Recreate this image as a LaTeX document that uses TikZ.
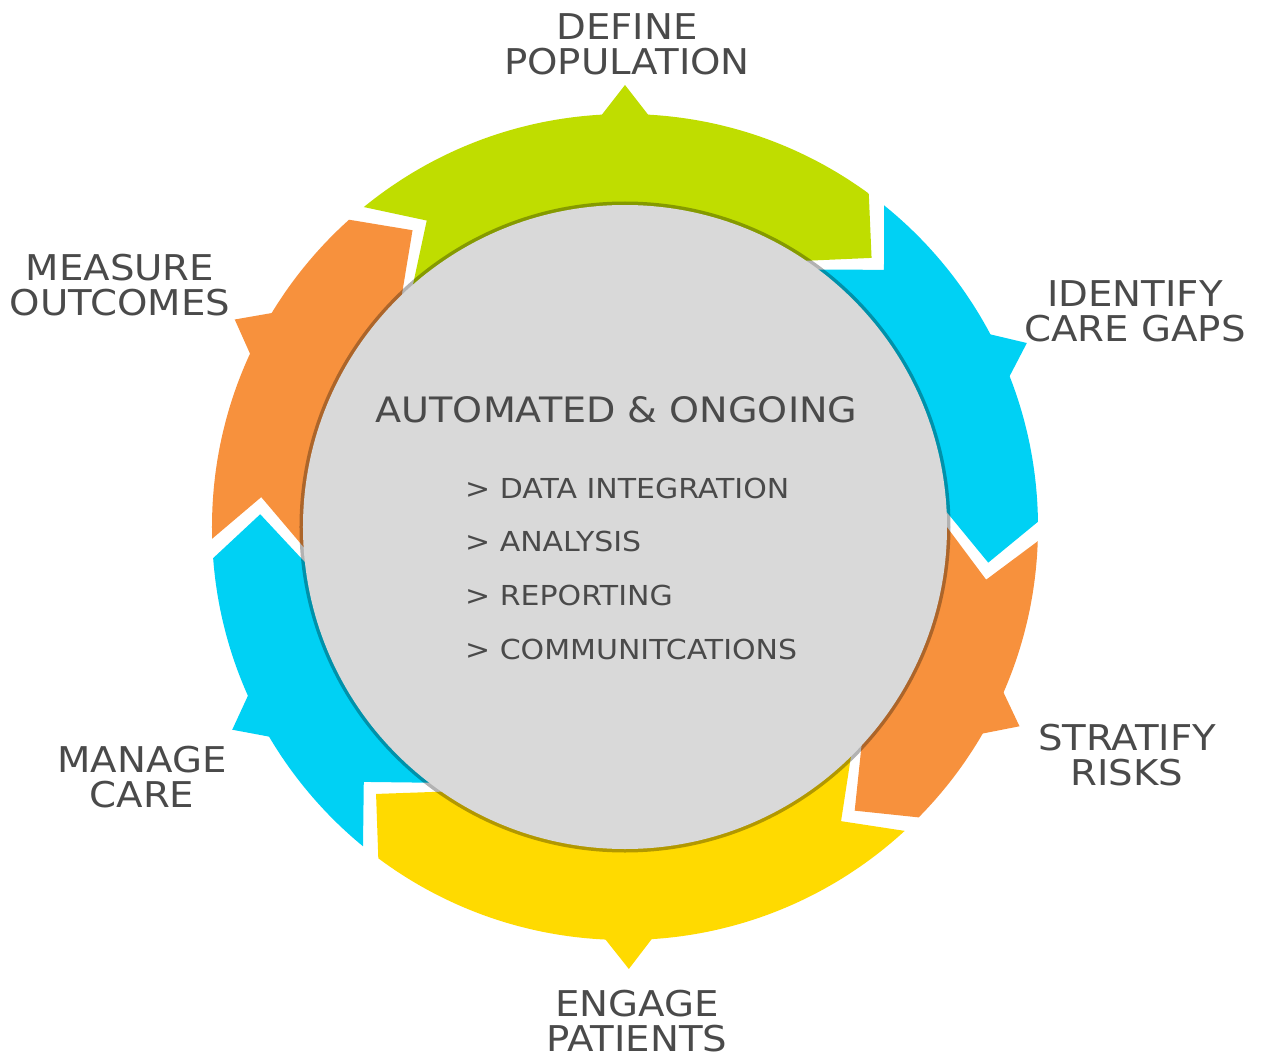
\documentclass[tikz,border=0pt]{standalone}
\usepackage{fontspec}
\setmainfont[FakeStretch=1.09]{DejaVu Sans}
\usepackage{tikz}
\usetikzlibrary{calc}
\definecolor{cyclegreen}{RGB}{191,221,0}
\definecolor{cycleblue}{RGB}{0,209,244}
\definecolor{cycleorange}{RGB}{247,145,61}
\definecolor{cycleyellow}{RGB}{255,218,0}
\definecolor{hubgray}{RGB}{217,217,217}
\definecolor{labelgray}{RGB}{74,74,74}
\tikzset{
  steplabel/.style={
    align=center,
    text=labelgray,
    inner sep=0pt,
    font=\fontsize{35.5}{35}\selectfont
  },
  hubtitle/.style={text=labelgray,inner sep=0pt,font=\fontsize{35}{40}\selectfont},
  hubitem/.style={anchor=west,text=labelgray,inner sep=0pt,font=\fontsize{27.5}{30}\selectfont},
  hubdisc/.style={circle,fill=hubgray,inner sep=0pt,minimum size=644pt},
}

\begin{document}
\begin{tikzpicture}[x=1pt,y=1pt]
  \useasboundingbox (-625,-534) rectangle (642,527);

  % Pointer tabs on the rim
  \foreach \ang/\segcolor in {90/cyclegreen,24.6/cycleblue,-26.8/cycleorange,
      -89.5/cycleyellow,-152.7/cycleblue,152/cycleorange}
    \fill[\segcolor] (\ang+4.2:405) -- (\ang:442) -- (\ang-4.2:405) -- cycle;

  % Ring segments: notch tip at \tail, arrow tip at \head (r=365)
  \begin{scope}
    \clip (0,0) circle (413);
    \foreach \tail/\head/\segcolor in {122.9/47.5/cyclegreen,44.8/-5.6/cycleblue,
        -8.3/-51/cycleorange,-53.7/-133/cycleyellow,-135.7/-182/cycleblue,
        -184.7/-234.4/cycleorange}
      \fill[\segcolor] (\head:365) -- ++(\head+45:150) -- (\head+13:600)
        arc[start angle=\head+13,end angle=\tail+13,radius=600]
        -- ($(\tail:365)+(\tail+45:150)$) -- (\tail:365) -- ++(\tail+135:150)
        -- (0,0) -- ($(\head:365)+(\head+135:150)$) -- cycle;
  \end{scope}

  % Centre disc with its rim shadow
  \fill[black,opacity=.3] (0,0) circle (325.5);
  \node[hubdisc] (hub) at (0,0) {};
  \node[hubtitle] (title) at (-8.5,117.5) {AUTOMATED \& ONGOING};
  \node[hubitem] (integration) at (-160,39) {> DATA INTEGRATION};
  \node[hubitem] (analysis) at (-160,-14) {> ANALYSIS};
  \node[hubitem] (reporting) at (-160,-68) {> REPORTING};
  \node[hubitem] (communication) at (-160,-122) {> COMMUNITCATIONS};

  % Step labels
  \node[steplabel] (define) at (2,482.5) {DEFINE\\POPULATION};
  \node[steplabel] (identify) at (510,216) {IDENTIFY\\CARE GAPS};
  \node[steplabel] (stratify) at (502,-228.5) {STRATIFY\\RISKS};
  \node[steplabel] (engage) at (12,-494.5) {ENGAGE\\PATIENTS};
  \node[steplabel] (manage) at (-483,-250.5) {MANAGE\\CARE};
  \node[steplabel] (measure) at (-505,241.5) {MEASURE\\OUTCOMES};
\end{tikzpicture}
\end{document}
